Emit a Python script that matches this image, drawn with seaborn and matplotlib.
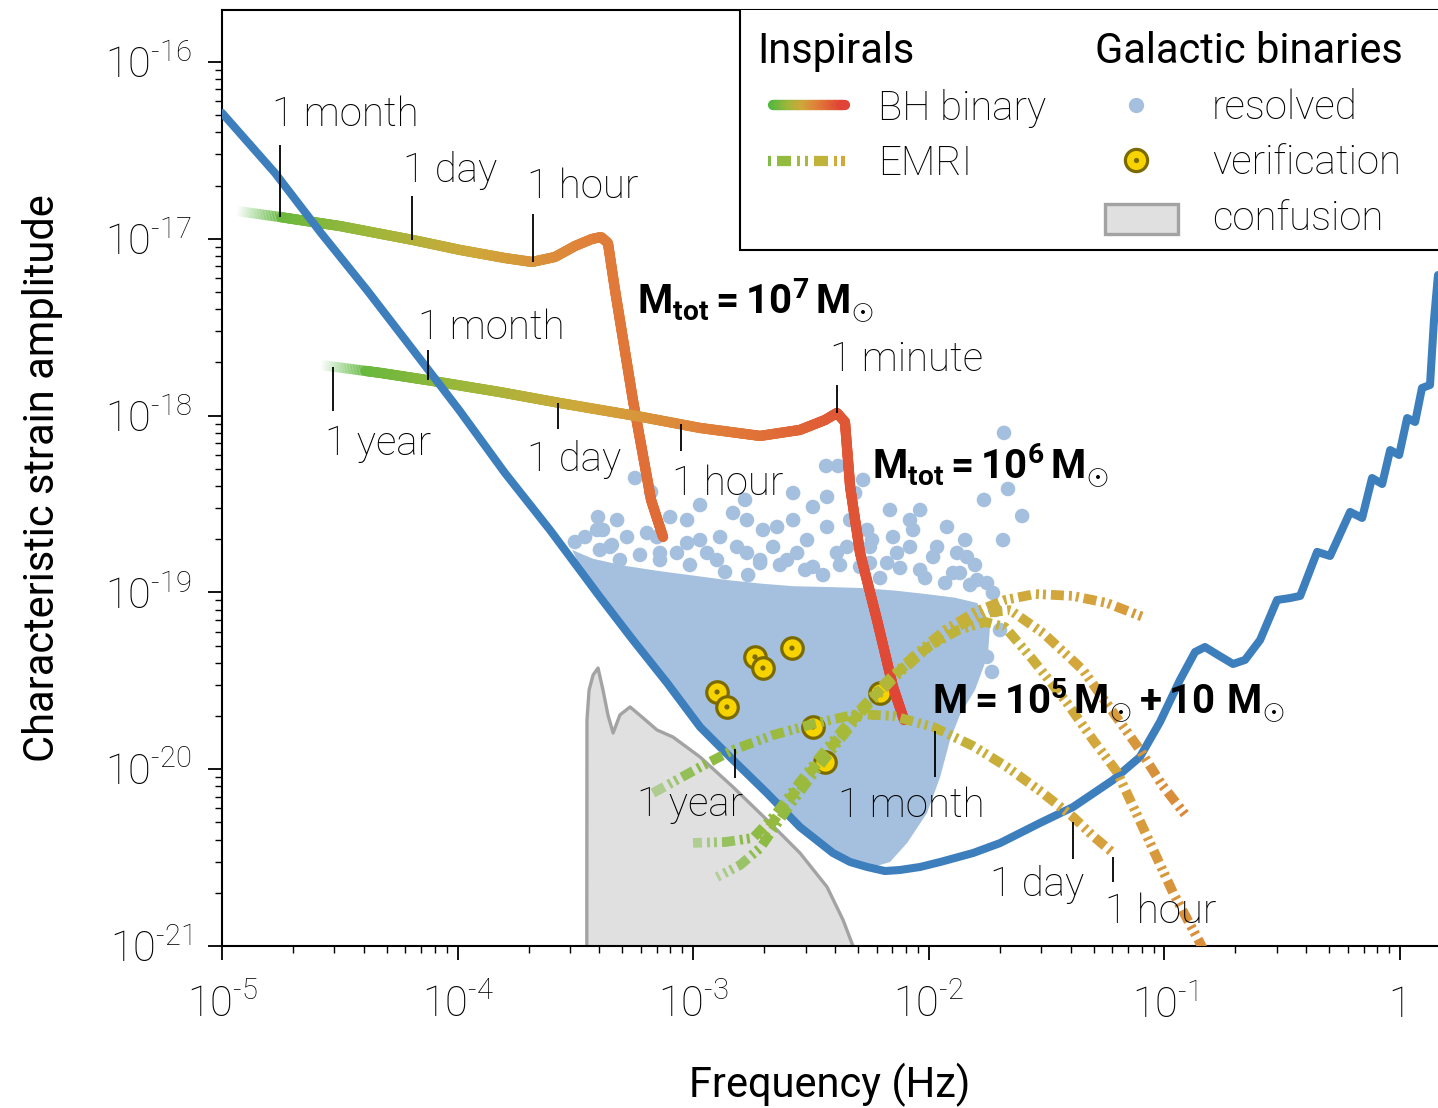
import numpy as np
import pandas as pd
import matplotlib
matplotlib.use("Agg")
import matplotlib.pyplot as plt
import seaborn as sns
from matplotlib.collections import LineCollection
from matplotlib.colors import LinearSegmentedColormap
from matplotlib.legend_handler import HandlerBase, HandlerPatch
from matplotlib.patches import Rectangle, Patch
from matplotlib.lines import Line2D
from matplotlib.ticker import FixedLocator, FuncFormatter, NullFormatter

# ---------------- data (log10 values) ----------------
# LISA sensitivity curve
sens_logf = [-5.000, -4.775, -4.580, -4.385, -4.189, -3.994, -3.799, -3.608, -3.396, -3.256,
             -3.111, -2.971, -2.831, -2.687, -2.547, -2.407, -2.334, -2.262, -2.186, -2.122,
             -2.037, -1.952, -1.812, -1.698, -1.528, -1.388, -1.218, -1.104, -1.019, -0.934,
             -0.870, -0.828, -0.773, -0.709, -0.658, -0.594, -0.522, -0.467, -0.424, -0.352,
             -0.297, -0.212, -0.161, -0.119, -0.076, -0.042, -0.004, 0.030, 0.064, 0.093,
             0.127, 0.144, 0.161]
sens_logh = [-16.288, -16.628, -16.967, -17.290, -17.629, -17.968, -18.325, -18.647, -19.026, -19.269,
             -19.512, -19.761, -19.948, -20.135, -20.327, -20.474, -20.525, -20.553, -20.576, -20.570,
             -20.553, -20.525, -20.474, -20.418, -20.304, -20.214, -20.061, -19.931, -19.733, -19.495,
             -19.337, -19.309, -19.354, -19.405, -19.382, -19.269, -19.043, -19.032, -19.020, -18.771,
             -18.794, -18.545, -18.579, -18.353, -18.387, -18.195, -18.223, -18.014, -18.036, -17.844,
             -17.827, -17.459, -17.205]

# BH binary inspirals
bh7_logf = [-4.936, -4.754, -4.499, -4.189, -3.990, -3.799, -3.684, -3.587, -3.502, -3.430,
            -3.391, -3.362, -3.332, -3.256, -3.179, -3.128]
bh7_logh = [-16.843, -16.877, -16.928, -17.007, -17.063, -17.109, -17.131, -17.103, -17.041, -17.001,
            -16.990, -17.024, -17.290, -17.912, -18.477, -18.687]
bh6_logf = [-4.580, -4.325, -4.130, -3.820, -3.565, -3.217, -2.971, -2.716, -2.547, -2.441,
            -2.390, -2.356, -2.334, -2.292, -2.220, -2.152, -2.105]
bh6_logh = [-17.714, -17.759, -17.799, -17.867, -17.929, -18.008, -18.070, -18.115, -18.081, -18.025,
            -17.985, -18.036, -18.404, -18.777, -19.156, -19.535, -19.722]

# EMRI tracks
emri1_logf = [-3.171, -2.971, -2.831, -2.661, -2.492, -2.305, -2.152, -1.982, -1.812, -1.668,
              -1.528, -1.388, -1.303, -1.218]
emri1_logh = [-20.135, -19.988, -19.891, -19.807, -19.744, -19.688, -19.699, -19.761, -19.869, -19.988,
              -20.123, -20.270, -20.378, -20.474]
emri2_logf = [-3.001, -2.865, -2.746, -2.653, -2.547, -2.432, -2.313, -2.186, -2.059, -1.931,
              -1.804, -1.677, -1.549, -1.388, -1.244, -1.091]
emri2_logh = [-20.417, -20.412, -20.389, -20.259, -20.072, -19.880, -19.693, -19.512, -19.354, -19.213,
              -19.111, -19.043, -19.009, -19.020, -19.060, -19.139]
emri3_logf = [-2.899, -2.801, -2.716, -2.610, -2.504, -2.385, -2.271, -2.143, -2.016, -1.889,
              -1.761, -1.655, -1.515, -1.346, -1.201, -1.104, -1.010, -0.904]
emri3_logh = [-20.610, -20.542, -20.446, -20.242, -20.050, -19.846, -19.654, -19.478, -19.326, -19.201,
              -19.117, -19.100, -19.230, -19.439, -19.710, -19.891, -20.089, -20.270]
emri4_logf = [-2.716, -2.610, -2.496, -2.377, -2.258, -2.131, -2.003, -1.876, -1.761, -1.677,
              -1.558, -1.413, -1.303, -1.201, -1.061, -0.963, -0.849, -0.785]
emri4_logh = [-20.400, -20.202, -20.005, -19.812, -19.620, -19.450, -19.309, -19.213, -19.167, -19.196,
              -19.382, -19.626, -19.835, -20.016, -20.417, -20.700, -20.983, -21.164]

# Galactic confusion foreground
conf_logf = [-3.452, -3.451, -3.442, -3.425, -3.404, -3.383, -3.362, -3.340, -3.311, -3.268,
             -3.213, -3.154, -3.086, -2.971, -2.831, -2.687, -2.547, -2.432, -2.364, -2.322, -2.292]
conf_logh = [-21.500, -19.722, -19.552, -19.467, -19.428, -19.552, -19.693, -19.795, -19.693, -19.648,
             -19.710, -19.778, -19.818, -19.931, -20.101, -20.287, -20.474, -20.666, -20.853, -21.000, -21.300]

# Resolved galactic binaries: dense core outline + individual points
dense_logf = [-3.514, -3.425, -3.290, -3.141, -2.971, -2.857, -2.716, -2.576, -2.419, -2.292,
              -2.143, -2.008, -1.889, -1.795, -1.740, -1.749, -1.804, -1.868, -1.910, -1.952,
              -2.008, -2.092, -2.165, -2.250, -2.407, -2.547, -2.687, -2.831, -2.971, -3.111,
              -3.256, -3.396, -3.481]
dense_logh = [-18.760, -18.810, -18.850, -18.880, -18.910, -18.930, -18.950, -18.965, -18.970, -18.975,
              -18.990, -19.010, -19.030, -19.060, -19.184, -19.354, -19.552, -19.693, -19.835, -20.044,
              -20.248, -20.417, -20.525, -20.559, -20.485, -20.338, -20.146, -19.959, -19.773, -19.524,
              -19.281, -19.037, -18.850]
res_logf = [-3.247, -3.404, -3.502, -3.459, -3.408, -3.323, -3.098, -3.154, -3.069, -2.971,
            -2.831, -2.814, -2.899, -2.704, -2.644, -2.576, -2.559, -2.492, -2.436, -2.385,
            -2.432, -2.432, -2.347, -2.334, -2.165, -2.152, -2.067, -2.080, -1.982, -1.923,
            -1.880, -1.766, -1.681, -1.664, -1.604, -1.753, -1.753, -1.868, -2.279, -2.313,
            -1.685, -3.179, -2.971, -2.780, -2.716, -2.632, -3.345, -3.226, -3.141, -3.014,
            -2.865, -2.767, -2.525, -2.449, -2.377, -2.250, -2.207, -2.122, -2.016, -1.931,
            -1.825, -1.804, -1.719, -1.698, -1.732, -3.311, -3.396, -2.241, -2.037, -1.846,
            -3.353, -3.281, -3.196, -3.141, -3.026, -2.941, -2.886, -2.772, -2.716, -2.661,
            -2.602, -2.517, -2.492, -2.390, -2.292, -2.250, -2.177, -2.135, -2.037, -1.965,
            -1.897, -1.838, -1.795, -1.728, -3.383, -3.026, -2.772, -2.576, -2.262, -2.080]
res_logh = [-18.353, -18.574, -18.715, -18.687, -18.647, -18.591, -18.574, -18.687, -18.777, -18.704,
            -18.551, -18.743, -18.817, -18.647, -18.630, -18.438, -18.777, -18.517, -18.285, -18.285,
            -18.460, -18.630, -18.743, -18.591, -18.534, -18.687, -18.647, -18.743, -18.800, -18.630,
            -18.777, -18.477, -18.098, -18.415, -18.568, -18.947, -19.365, -18.890, -18.364, -18.438,
            -18.704, -18.432, -18.506, -18.477, -18.817, -18.845, -18.732, -18.788, -18.817, -18.845,
            -18.885, -18.902, -18.873, -18.902, -18.845, -18.834, -18.919, -18.862, -18.919, -18.947,
            -18.958, -18.845, -19.100, -19.213, -19.450, -18.817, -18.760, -18.704, -18.534, -18.704,
            -18.743, -18.687, -18.664, -18.777, -18.721, -18.777, -18.687, -18.777, -18.834, -18.743,
            -18.817, -18.704, -18.856, -18.777, -18.856, -18.743, -18.834, -18.777, -18.873, -18.743,
            -18.890, -18.800, -18.930, -19.003, -18.647, -18.591, -18.591, -18.591, -18.647, -18.591]

# Verification binaries
ver_logf = [-2.899, -2.857, -2.738, -2.704, -2.581, -2.492, -2.441, -2.207]
ver_logh = [-19.563, -19.648, -19.365, -19.428, -19.315, -19.761, -19.959, -19.569]

# Time-to-merger markers
bh7_tick_labels = ["1 month", "1 day", "1 hour"]
bh7_tick_logf = [-4.754, -4.194, -3.680]
bh6_tick_labels = ["1 year", "1 month", "1 day", "1 hour", "1 minute"]
bh6_tick_logf = [-4.529, -4.126, -3.574, -3.052, -2.390]
emri_tick_labels = ["1 year", "1 month", "1 day", "1 hour"]
emri_tick_logf = [-2.823, -1.974, -1.388, -1.218]

# Mass labels
mass_labels = [r"$\mathbf{M_{tot} = 10^{7}\,M_{\odot}}$",
               r"$\mathbf{M_{tot} = 10^{6}\,M_{\odot}}$",
               r"$\mathbf{M = 10^{5}\,M_{\odot} + 10\ M_{\odot}}$"]
mass_label_logf = [-3.239, -2.241, -1.986]
mass_label_logh = [-17.346, -18.279, -19.609]

# Axis ticks
x_major_exp = [-5, -4, -3, -2, -1, 0]
y_major_exp = [-21, -20, -19, -18, -17, -16]

# ---------------- styling ----------------
sns.set_theme(style="ticks")
plt.rcParams.update({
    "font.family": ["Roboto", "DejaVu Sans"],
    "font.weight": "light",
    "mathtext.fontset": "custom",
    "mathtext.rm": "Roboto",
    "mathtext.it": "Roboto:italic",
    "mathtext.bf": "Roboto:bold",
    "axes.linewidth": 1.5,
    "axes.edgecolor": "black",
    "xtick.color": "black",
    "ytick.color": "black",
    "text.color": "black",
    "axes.labelcolor": "black",
})

BLUE = "#3d7ebd"
RES = "#a4c0de"
bh_cmap = LinearSegmentedColormap.from_list(
    "bh", [(0.0, "#4fb83f"), (0.25, "#9db73a"), (0.45, "#cfa83a"),
           (0.65, "#e0843a"), (0.82, "#e06636"), (1.0, "#e04436")])
emri_cmap = LinearSegmentedColormap.from_list(
    "emri", [(0.0, "#80bb48"), (0.3, "#a7ba38"), (0.55, "#c8b03a"),
             (0.75, "#d6a43c"), (1.0, "#d9883a")])
EMRI_PATTERN = [(True, 13.0), (False, 5.0), (True, 3.0), (False, 4.0), (True, 3.0), (False, 5.0)]

fig = plt.figure(figsize=(14.38, 11.08), dpi=100)
fig.patch.set_facecolor("white")
ax = fig.add_axes([222 / 1438, 1 - 946 / 1108, 1 - 222 / 1438, 936 / 1108])
ax.set_xscale("log")
ax.set_yscale("log")
XLIM = (1e-5, 10 ** 0.161)
YLIM = (1e-21, 10 ** -15.706)
ax.set_xlim(*XLIM)
ax.set_ylim(*YLIM)
ax.set_autoscale_on(False)


def display_path(lf, lh, step=1.0):
    pts = ax.transData.transform(np.column_stack([10.0 ** np.asarray(lf), 10.0 ** np.asarray(lh)]))
    d = np.hypot(np.diff(pts[:, 0]), np.diff(pts[:, 1]))
    s = np.concatenate([[0.0], np.cumsum(d)])
    n = max(int(s[-1] / step), 2)
    ss = np.linspace(0, s[-1], n + 1)
    P = np.column_stack([np.interp(ss, s, pts[:, 0]), np.interp(ss, s, pts[:, 1])])
    return P, ss


def to_data(P):
    return ax.transData.inverted().transform(P)


def gradient_solid(lf, lh, cmap, c0, c1, lw, fade_px, zorder):
    P, ss = display_path(lf, lh, 1.5)
    D = to_data(P)
    segs = np.stack([D[:-1], D[1:]], axis=1)
    mid = 0.5 * (ss[:-1] + ss[1:])
    frac = (P[:-1, 0] + P[1:, 0]) / 2
    frac = (frac - P[0, 0]) / (P[-1, 0] - P[0, 0])
    cols = cmap(c0 + (c1 - c0) * np.clip(frac, 0, 1))
    alpha = np.clip(mid / fade_px, 0, 1)
    cols[:, 3] = alpha
    faded = alpha < 1
    ax.add_collection(LineCollection(segs[faded], colors=cols[faded], linewidths=lw,
                                     capstyle="butt", zorder=zorder))
    ax.add_collection(LineCollection(segs[~faded], colors=cols[~faded], linewidths=lw,
                                     capstyle="round", joinstyle="round", zorder=zorder))


def gradient_dashed(lf, lh, cmap, c0, c1, lw, fade_px, zorder, phase=0.0):
    P, ss = display_path(lf, lh, 1.0)
    L = ss[-1]
    segs, cols = [], []
    pos, i = -phase, 0
    while pos < L:
        on, ln = EMRI_PATTERN[i % len(EMRI_PATTERN)]
        a, b = max(pos, 0.0), min(pos + ln, L)
        if on and b > a:
            inner = ss[(ss > a) & (ss < b)]
            sv = np.concatenate([[a], inner, [b]])
            seg = np.column_stack([np.interp(sv, ss, P[:, 0]), np.interp(sv, ss, P[:, 1])])
            segs.append(to_data(seg))
            m = 0.5 * (a + b)
            c = list(cmap(c0 + (c1 - c0) * m / L))
            c[3] = 0.45 + 0.55 * min(m / fade_px, 1.0)
            cols.append(c)
        pos += ln
        i += 1
    ax.add_collection(LineCollection(segs, colors=cols, linewidths=lw, capstyle="butt",
                                     joinstyle="round", zorder=zorder))


# ---------------- confusion foreground ----------------
conf_f = 10.0 ** np.array(conf_logf)
conf_h = 10.0 ** np.array(conf_logh)
ax.fill_between(conf_f, conf_h, 1e-23, facecolor="#e0e0e0", edgecolor="none", zorder=1)
ax.plot(conf_f, conf_h, color="#a3a3a3", lw=2.4, zorder=1.2, solid_joinstyle="round")

# ---------------- resolved binaries ----------------
ax.fill(10.0 ** np.array(dense_logf), 10.0 ** np.array(dense_logh), color=RES, lw=0, zorder=2)
res_df = pd.DataFrame({"f": 10.0 ** np.array(res_logf), "h": 10.0 ** np.array(res_logh)})
sns.scatterplot(data=res_df, x="f", y="h", ax=ax, s=110, color=RES, edgecolor="none",
                linewidth=0, zorder=2.1, legend=False)

# ---------------- verification binaries ----------------
ver_df = pd.DataFrame({"f": 10.0 ** np.array(ver_logf), "h": 10.0 ** np.array(ver_logh)})
sns.scatterplot(data=ver_df, x="f", y="h", ax=ax, s=240, color="#f7d400", edgecolor="#7a6a00",
                linewidth=2.3, zorder=3, legend=False)
sns.scatterplot(data=ver_df, x="f", y="h", ax=ax, s=14, color="#7a6a00", edgecolor="none",
                linewidth=0, zorder=3.1, legend=False)

# ---------------- BH binaries ----------------
gradient_solid(bh7_logf, bh7_logh, bh_cmap, 0.0, 0.8, 7.4, 45, 4)
gradient_solid(bh6_logf, bh6_logh, bh_cmap, 0.0, 1.0, 7.4, 45, 4)

# ---------------- sensitivity curve ----------------
sens_df = pd.DataFrame({"f": 10.0 ** np.array(sens_logf), "h": 10.0 ** np.array(sens_logh)})
sns.lineplot(data=sens_df, x="f", y="h", ax=ax, color=BLUE, linewidth=5.8, sort=False,
             estimator=None, zorder=5)
ax.lines[-1].set_solid_joinstyle("round")
ax.lines[-1].set_solid_capstyle("round")

# ---------------- EMRIs ----------------
gradient_dashed(emri1_logf, emri1_logh, emri_cmap, 0.0, 0.8, 7.0, 50, 6)
gradient_dashed(emri2_logf, emri2_logh, emri_cmap, 0.0, 0.85, 7.0, 50, 6, phase=4)
gradient_dashed(emri3_logf, emri3_logh, emri_cmap, 0.0, 1.0, 7.0, 50, 6, phase=10)
gradient_dashed(emri4_logf, emri4_logh, emri_cmap, 0.15, 1.0, 7.0, 1, 6, phase=17)

# ---------------- time markers ----------------
def time_marks(track_lf, track_lh, tick_lf, labels, spans, offsets):
    for lf, lab, (g0, g1), (dx, dy) in zip(tick_lf, labels, spans, offsets):
        base = np.interp(lf, track_lf, track_lh)
        y0, y1 = 10 ** (base + g0), 10 ** (base + g1)
        ax.vlines(10 ** lf, y0, y1, color="black", lw=1.3, zorder=7)
        ax.annotate(lab, xy=(10 ** lf, y1), xytext=(dx * 0.72, dy * 0.72), textcoords="offset points",
                    ha="left", va="center", fontsize=29, fontweight="light", zorder=8)

time_marks(bh7_logf, bh7_logh, bh7_tick_logf, bh7_tick_labels,
           [(0.0, 0.41), (0.0, 0.25), (0.0, 0.27)],
           [(-8, 30), (-9, 25), (-6, 27)])
time_marks(bh6_logf, bh6_logh, bh6_tick_logf, bh6_tick_labels,
           [(0.0, -0.25), (0.0, 0.17), (0.0, -0.15), (0.0, -0.15), (0.0, 0.16)],
           [(-8, -33), (-10, 22), (-31, -30), (-9, -33), (-7, 25)])
time_marks(emri1_logf, emri1_logh, emri_tick_logf, emri_tick_labels,
           [(0.0, -0.16), (-0.02, -0.28), (-0.03, -0.24), (-0.02, -0.165)],
           [(-98, -27), (-97, -28), (-83, -25), (-8, -30)])

for lab, lf, lh in zip(mass_labels, mass_label_logf, mass_label_logh):
    ax.text(10 ** lf, 10 ** lh, lab, fontsize=29, ha="left", va="center", zorder=8)

# ---------------- axes ----------------
HYPHEN = "\u2010"


def log_fmt(v, pos):
    e = int(round(np.log10(v)))
    if e == 0:
        return "1"
    return "$\\mathregular{10^{" + HYPHEN + str(abs(e)) + "}}$"


xmaj = [10.0 ** e for e in x_major_exp]
ymaj = [10.0 ** e for e in y_major_exp]
xmin = [m * 10.0 ** e for e in x_major_exp for m in range(2, 10) if m * 10.0 ** e <= XLIM[1]]
ymin = [m * 10.0 ** e for e in y_major_exp for m in range(2, 10) if m * 10.0 ** e <= YLIM[1]]
ax.xaxis.set_major_locator(FixedLocator(xmaj))
ax.yaxis.set_major_locator(FixedLocator(ymaj))
ax.xaxis.set_minor_locator(FixedLocator(xmin))
ax.yaxis.set_minor_locator(FixedLocator(ymin))
for axis in (ax.xaxis, ax.yaxis):
    axis.set_major_formatter(FuncFormatter(log_fmt))
    axis.set_minor_formatter(NullFormatter())
ax.tick_params(which="major", direction="out", length=10, width=1.3, labelsize=30)
ax.tick_params(which="minor", direction="out", length=5, width=1.0)
ax.tick_params(axis="x", which="major", pad=18)
ax.tick_params(axis="y", which="major", pad=12)
ax.spines["right"].set_visible(False)
ax.set_xlabel("Frequency (Hz)", fontsize=30, fontweight="normal", labelpad=26)
ax.set_ylabel("Characteristic strain amplitude", fontsize=30, fontweight="normal", labelpad=30)
ax.set_xlim(*XLIM)
ax.set_ylim(*YLIM)

# ---------------- legend ----------------
class GradientProxy:
    def __init__(self, cmap, c0, c1, dashed, lw):
        self.cmap, self.c0, self.c1, self.dashed, self.lw = cmap, c0, c1, dashed, lw


class HandlerGradient(HandlerBase):
    def create_artists(self, legend, orig_handle, xdescent, ydescent, width, height, fontsize, trans):
        h = orig_handle
        y = height / 2 - ydescent
        x0 = -xdescent + 8.0
        x1 = -xdescent + width
        if not h.dashed:
            x0 += h.lw / 2
            x1 -= h.lw / 2
            xs = np.linspace(x0, x1, 61)
            segs = [[(xs[k], y), (xs[k + 1], y)] for k in range(60)]
            cols = h.cmap(np.linspace(h.c0, h.c1, 60))
            lc = LineCollection(segs, colors=cols, linewidths=h.lw, capstyle="round", transform=trans)
        else:
            pat = [(on, ln * 0.8) for on, ln in EMRI_PATTERN]
            segs, cols = [], []
            pos = x0 - (pat[0][1] + pat[1][1] + pat[2][1] + pat[3][1])
            k = 0
            while pos < x1:
                on, ln = pat[k % len(pat)]
                a, b = max(pos, x0), min(pos + ln, x1)
                if on and b > a:
                    segs.append([(a, y), (b, y)])
                    cols.append(h.cmap(h.c0 + (h.c1 - h.c0) * ((a + b) / 2 - x0) / (x1 - x0)))
                pos += ln
                k += 1
            lc = LineCollection(segs, colors=cols, linewidths=h.lw, capstyle="butt", transform=trans)
        return [lc]


def conf_patch(legend, orig_handle, xdescent, ydescent, width, height, fontsize):
    return Rectangle((-xdescent + 7, -ydescent - 3), width - 7, height + 1)


frame = Rectangle((0.426, 0.7436), 0.60, 0.30, transform=ax.transAxes, facecolor="white",
                  edgecolor="black", lw=1.5, zorder=9, clip_on=True)
ax.add_patch(frame)

bh_proxy = GradientProxy(bh_cmap, 0.0, 1.0, False, 7.4)
emri_proxy = GradientProxy(emri_cmap, 0.0, 0.75, True, 7.4)
leg1 = ax.legend(handles=[bh_proxy, emri_proxy], labels=["BH binary", "EMRI"], title="Inspirals",
                 loc="upper left", bbox_to_anchor=(0.44, 0.978), frameon=False, fontsize=29,
                 title_fontproperties={"size": 30, "weight": "normal"}, alignment="left",
                 handlelength=2.3, handletextpad=0.7, labelspacing=0.42, borderpad=0,
                 borderaxespad=0, handler_map={GradientProxy: HandlerGradient()})
leg1.set_zorder(11)
ax.add_artist(leg1)

res_handle = Line2D([], [], linestyle="", marker="o", markersize=11, markerfacecolor=RES,
                    markeredgecolor="none")
ver_outer = Line2D([], [], linestyle="", marker="o", markersize=16, markerfacecolor="#f7d400",
                   markeredgecolor="#7a6a00", markeredgewidth=2.3)
ver_inner = Line2D([], [], linestyle="", marker="o", markersize=3.8, markerfacecolor="#7a6a00",
                   markeredgecolor="none")
conf_handle = Patch(facecolor="#e0e0e0", edgecolor="#a3a3a3", lw=2.4)
leg2 = ax.legend(handles=[res_handle, (ver_outer, ver_inner), conf_handle],
                 labels=["resolved", "verification", "confusion"], title="Galactic binaries",
                 loc="upper left", bbox_to_anchor=(0.718, 0.978), frameon=False, fontsize=29,
                 title_fontproperties={"size": 30, "weight": "normal"}, alignment="left",
                 handlelength=2.05, handletextpad=0.85, labelspacing=0.42, borderpad=0,
                 borderaxespad=0, handler_map={Patch: HandlerPatch(patch_func=conf_patch)})
leg2.set_zorder(11)

fig.savefig("out.png", dpi=100, facecolor="white")
